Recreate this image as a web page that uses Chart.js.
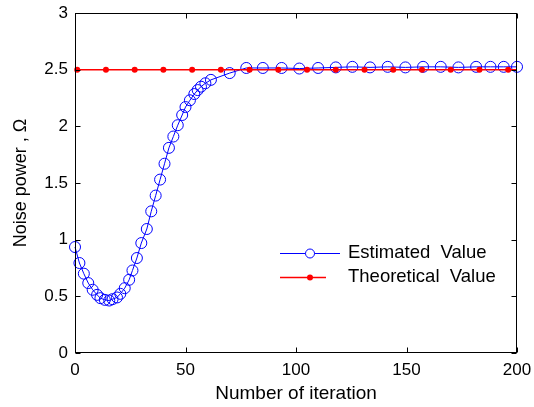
<!DOCTYPE html>
<html><head><meta charset="utf-8">
<script src="https://cdn.jsdelivr.net/npm/chart.js@4/dist/chart.umd.min.js"></script>
<style>html,body{margin:0;padding:0;background:#fff;}#wrap{width:534px;height:407px;}</style>
</head><body><div id="wrap"><canvas id="c" width="534" height="407"></canvas></div>
<script>
// ---- data ----
const estX = [0, 2, 4, 6, 8, 10, 11.5, 13.5, 15.5, 17, 19, 20.5, 22.5, 24.5, 26, 28, 30, 32.5, 34.5, 36.5, 38.5,
  40.5, 42.5, 44.5, 46.5, 48.5, 50, 52, 54, 55.5, 57, 59, 61.5, 70, 77.5, 85, 93.5, 101.5, 110, 118, 125.5,
  133.5, 141.5, 149.5, 157.5, 165.5, 173.5, 181.5, 188, 194, 200];
const estY = [0.935, 0.794, 0.70, 0.617, 0.558, 0.513, 0.484, 0.469, 0.463, 0.475, 0.49, 0.522, 0.572, 0.646, 0.728, 0.838, 0.97, 1.094, 1.25, 1.389, 1.53,
  1.67, 1.81, 1.91, 2.01, 2.10, 2.17, 2.23, 2.285, 2.32, 2.35, 2.38, 2.41, 2.47, 2.515, 2.515, 2.515, 2.51, 2.515, 2.52, 2.525,
  2.52, 2.525, 2.52, 2.525, 2.525, 2.52, 2.525, 2.525, 2.525, 2.525];
const theoX = [1, 14, 27, 40, 53, 66, 79, 92, 105, 118, 131, 144, 157, 170, 183, 196, 200];
const theoY = [2.5, 2.5, 2.5, 2.5, 2.5, 2.5, 2.5, 2.5, 2.5, 2.5, 2.5, 2.5, 2.5, 2.5, 2.5, 2.5, 2.5];
const theoMarker = [1, 1, 1, 1, 1, 1, 1, 1, 1, 1, 1, 1, 1, 1, 1, 1, 0];
const xTicks = [0, 50, 100, 150, 200];
const yTicks = [0, 0.5, 1, 1.5, 2, 2.5, 3];
const seriesNames = ['Estimated  Value', 'Theoretical  Value'];
const xTitle = 'Number of iteration';
const yTitle = 'Noise power , \u03A9';

const FONT = '"Liberation Sans", Arial, sans-serif';
const BLUE = '#0000ff', RED = '#ff0000';

const framePlugin = {
  id: 'frame',
  afterDatasetsDraw(chart) {
    const {ctx, chartArea: a, scales: {x, y}} = chart;
    ctx.save();
    ctx.strokeStyle = '#000'; ctx.lineWidth = 1;
    const L = Math.round(a.left) + 0.5, R = Math.round(a.right) - 0.5;
    const T = Math.round(a.top) + 0.5, B = Math.round(a.bottom) - 0.5;
    ctx.strokeRect(L, T, R - L, B - T);
    ctx.beginPath();
    xTicks.forEach(v => {
      const p = Math.round(x.getPixelForValue(v)) + 0.5;
      ctx.moveTo(p, B); ctx.lineTo(p, B - 5);
      ctx.moveTo(p, T); ctx.lineTo(p, T + 5);
    });
    yTicks.forEach(v => {
      const p = Math.round(y.getPixelForValue(v)) + 0.5;
      ctx.moveTo(L, p); ctx.lineTo(L + 5, p);
      ctx.moveTo(R, p); ctx.lineTo(R - 5, p);
    });
    ctx.stroke();

    // legend (inside the axes, no box)
    const lx = a.left + 205, ly1 = a.top + 240, ly2 = a.top + 264;
    ctx.font = '18.5px ' + FONT;
    ctx.textBaseline = 'middle';
    ctx.fillStyle = '#000';
    ctx.strokeStyle = BLUE; ctx.lineWidth = 1;
    ctx.beginPath(); ctx.moveTo(lx, ly1 + 0.5); ctx.lineTo(lx + 60, ly1 + 0.5); ctx.stroke();
    ctx.beginPath(); ctx.arc(lx + 30, ly1 + 0.5, 4.5, 0, Math.PI * 2); ctx.fillStyle = '#fff'; ctx.fill(); ctx.stroke();
    ctx.fillStyle = '#000';
    ctx.fillText(seriesNames[0], lx + 68, ly1);
    ctx.strokeStyle = RED; ctx.lineWidth = 1.5;
    ctx.beginPath(); ctx.moveTo(lx, ly2 + 0.5); ctx.lineTo(lx + 46, ly2 + 0.5); ctx.stroke();
    ctx.beginPath(); ctx.arc(lx + 30, ly2 + 0.5, 3, 0, Math.PI * 2); ctx.fillStyle = RED; ctx.fill();
    ctx.fillStyle = '#000';
    ctx.fillText(seriesNames[1], lx + 68, ly2);
    ctx.restore();
  }
};

new Chart(document.getElementById('c'), {
  type: 'line',
  data: {
    datasets: [
      {
        label: seriesNames[0],
        data: estX.map((v, i) => ({x: v, y: estY[i]})),
        borderColor: BLUE, borderWidth: 1, tension: 0,
        pointStyle: 'circle', pointRadius: 5.5, pointBorderColor: BLUE, pointBorderWidth: 1,
        pointBackgroundColor: 'rgba(0,0,0,0)', clip: false, order: 1
      },
      {
        label: seriesNames[1],
        data: theoX.map((v, i) => ({x: v, y: theoY[i]})),
        borderColor: RED, borderWidth: 1.5, tension: 0,
        pointStyle: 'circle', pointRadius: theoMarker.map(m => m ? 3 : 0), pointBorderWidth: 0,
        pointBackgroundColor: RED, pointBorderColor: RED, clip: false, order: 0
      }
    ]
  },
  options: {
    responsive: false, animation: false, devicePixelRatio: 1,
    layout: {padding: {top: 13, right: 17, left: 0, bottom: 0}},
    plugins: {legend: {display: false}, tooltip: {enabled: false}},
    scales: {
      x: {
        type: 'linear', min: 0, max: 200,
        afterBuildTicks: s => { s.ticks = xTicks.map(v => ({value: v})); },
        afterFit: s => { s.height = 54; s.paddingLeft = 0; s.paddingRight = 0; },
        grid: {display: false, drawTicks: false}, border: {display: false},
        ticks: {color: '#000', font: {family: FONT, size: 17}, padding: 7, maxRotation: 0, autoSkip: false,
                callback: v => String(v)},
        title: {display: true, text: xTitle, color: '#000', font: {family: FONT, size: 19}, padding: {top: 0, bottom: 2}}
      },
      y: {
        type: 'linear', min: 0, max: 3,
        afterBuildTicks: s => { s.ticks = yTicks.map(v => ({value: v})); },
        afterFit: s => { s.width = 75; s.paddingTop = 0; s.paddingBottom = 0; },
        grid: {display: false, drawTicks: false}, border: {display: false},
        ticks: {color: '#000', font: {family: FONT, size: 17}, padding: 7, autoSkip: false,
                callback: v => String(v)},
        title: {display: true, text: yTitle, color: '#000', font: {family: FONT, size: 18}, padding: {top: 10, bottom: 0}}
      }
    }
  },
  plugins: [framePlugin]
});
</script>
</body></html>
